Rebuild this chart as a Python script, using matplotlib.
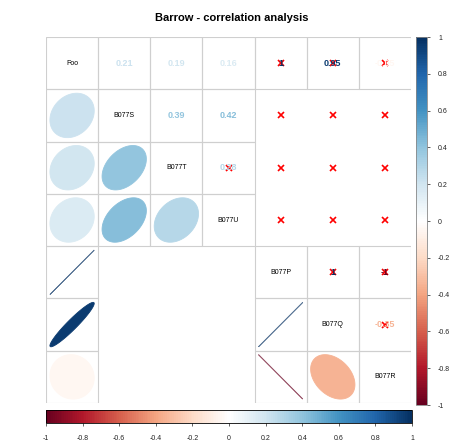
# Barrow correlation matrix: ellipses below the diagonal, coefficients above
import numpy as np
import matplotlib.pyplot as plt
from matplotlib.colors import LinearSegmentedColormap
from matplotlib.patches import Polygon, Rectangle
from matplotlib.cm import ScalarMappable

plt.rcParams['font.family'] = ['Liberation Sans', 'DejaVu Sans']
plt.rcParams['axes.unicode_minus'] = False

# Variables and their pairwise correlations (nan = no overlapping data)
labels = ['Foo', 'B077S', 'B077T', 'B077U', 'B077P', 'B077Q', 'B077R']
nan = np.nan
corr = np.array([
    [1.00, 0.21, 0.19, 0.16, 1.00, 0.95, -0.05],
    [0.21, 1.00, 0.39, 0.42, nan, nan, nan],
    [0.19, 0.39, 1.00, 0.28, nan, nan, nan],
    [0.16, 0.42, 0.28, 1.00, nan, nan, nan],
    [1.00, nan, nan, nan, 1.00, 1.00, -1.00],
    [0.95, nan, nan, nan, 1.00, 1.00, -0.35],
    [-0.05, nan, nan, nan, -1.00, -0.35, 1.00],
])
# cells crossed out as not significant (row, col)
insignificant = [(0, 4), (0, 5), (0, 6),
                 (1, 4), (1, 5), (1, 6),
                 (2, 3), (2, 4), (2, 5), (2, 6),
                 (3, 4), (3, 5), (3, 6),
                 (4, 5), (4, 6), (5, 6)]
legend_ticks = [-1, -0.8, -0.6, -0.4, -0.2, 0, 0.2, 0.4, 0.6, 0.8, 1]

rdbu = ['#67001F', '#B2182B', '#D6604D', '#F4A582', '#FDDBC7', '#FFFFFF',
        '#D1E5F0', '#92C5DE', '#4393C3', '#2166AC', '#053061']
cmap = LinearSegmentedColormap.from_list('RdBu200', rdbu, N=200)
norm = plt.Normalize(-1, 1)

W, H = 451, 441
fig = plt.figure(figsize=(W / 100, H / 100), dpi=100)


def box(x0, y0, x1, y1):
    # pixel box (top-left origin) -> figure fraction rect
    return [x0 / W, 1 - y1 / H, (x1 - x0) / W, (y1 - y0) / H]


def fmt(v):
    s = '%.2f' % v
    return s.rstrip('0').rstrip('.')


n = len(labels)
ax = fig.add_axes(box(46, 37, 411, 403))
ax.set_xlim(0, n)
ax.set_ylim(n, 0)
ax.axis('off')

t = np.linspace(0, 2 * np.pi, 120)
for i in range(n):
    for j in range(n):
        r = corr[i, j]
        if np.isnan(r):
            continue
        ax.add_patch(Rectangle((j, i), 1, 1, fill=False, ec='#cfcfcf', lw=0.8))
        cx, cy = j + 0.5, i + 0.5
        col = cmap(norm(r))
        if i == j:
            ax.text(cx, cy, labels[i], ha='center', va='center',
                    fontsize=5, color='black')
        elif i > j:
            a = np.arccos(np.clip(r, -1, 1)) / 2
            ex = 0.85 * np.cos(t + a) / 2
            ey = 0.85 * np.cos(t - a) / 2
            pts = np.column_stack([cx + ex, cy - ey])
            if abs(r) >= 0.999:
                # degenerate ellipse: just a thin diagonal stroke
                ax.add_patch(Polygon(pts, closed=True, fill=False, ec=col,
                                     lw=0.6, alpha=0.65))
            else:
                ax.add_patch(Polygon(pts, closed=True, fc=col, ec=col, lw=0.6))
        else:
            ax.text(cx, cy, fmt(r), ha='center', va='center', fontsize=6.5,
                    fontweight='bold', color=col)

for i, j in insignificant:
    ax.plot(j + 0.5, i + 0.5, marker='x', color='red', ms=4.5, mew=1.2)

sm = ScalarMappable(norm=norm, cmap=cmap)

# vertical legend on the right
cax = fig.add_axes(box(416, 37, 427, 405))
cb = fig.colorbar(sm, cax=cax, orientation='vertical', ticks=legend_ticks)
cb.ax.set_yticklabels([fmt(v) for v in legend_ticks])
cb.ax.tick_params(labelsize=5, length=2, width=0.5, pad=6, colors='#222222')
cb.outline.set_edgecolor('#888888')
cb.outline.set_linewidth(0.6)

# horizontal legend at the bottom
hax = fig.add_axes(box(46, 410, 412, 423))
hb = fig.colorbar(sm, cax=hax, orientation='horizontal', ticks=legend_ticks)
hb.ax.set_xticklabels([fmt(v) for v in legend_ticks])
hb.ax.tick_params(labelsize=5, length=2, width=0.5, pad=7, colors='#222222')
hb.outline.set_edgecolor('black')
hb.outline.set_linewidth(0.6)

fig.text(232 / W, 1 - 18 / H, 'Barrow - correlation analysis', ha='center',
         va='center', fontsize=8, fontweight='bold')

fig.savefig('out.png', dpi=100)
